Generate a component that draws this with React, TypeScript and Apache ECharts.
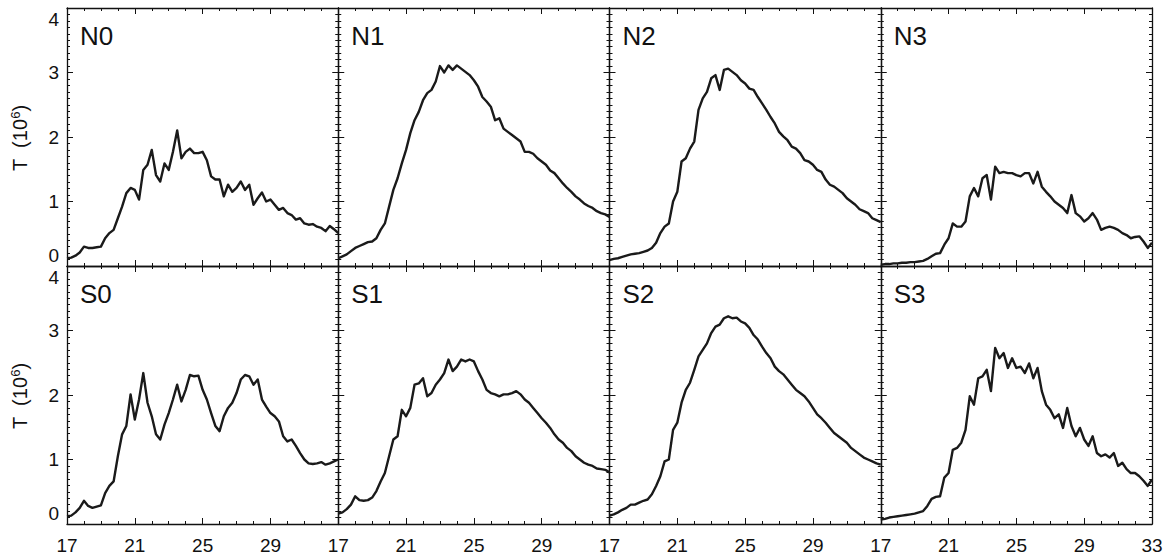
import React, { useEffect, useRef } from "react";
import * as echarts from "echarts";

// Panel names, top row (N) then bottom row (S)
const PANELS = ["N0", "N1", "N2", "N3", "S0", "S1", "S2", "S3"];

// Sampling of the time axis (values every 0.25 from 17 to 33)
const TIME_START = 17;
const TIME_STEP = 0.25;

const X_MIN = 17;
const X_MAX = 33;
const X_INTERVAL = 4;
const Y_MIN = 0;
const Y_MAX = 4;
const Y_INTERVAL = 1;

// Temperature profiles, T in units of 10^6
const N0 = [0.12, 0.13, 0.16, 0.21, 0.30, 0.28, 0.28, 0.29, 0.30, 0.43, 0.51, 0.56, 0.74, 0.92, 1.13, 1.21, 1.18, 1.03, 1.49, 1.57, 1.80, 1.41, 1.31, 1.59, 1.49, 1.77, 2.10, 1.67, 1.77, 1.82, 1.75, 1.75, 1.77, 1.64, 1.39, 1.34, 1.34, 1.08, 1.26, 1.15, 1.21, 1.31, 1.18, 1.26, 0.95, 1.05, 1.14, 1.00, 1.03, 0.95, 0.87, 0.90, 0.82, 0.79, 0.72, 0.74, 0.66, 0.64, 0.65, 0.61, 0.59, 0.54, 0.62, 0.57, 0.51];
const N1 = [0.12, 0.15, 0.18, 0.23, 0.28, 0.31, 0.34, 0.37, 0.38, 0.43, 0.56, 0.66, 0.92, 1.18, 1.36, 1.59, 1.80, 2.06, 2.26, 2.39, 2.57, 2.68, 2.73, 2.86, 3.10, 3.00, 3.11, 3.04, 3.11, 3.06, 3.01, 2.96, 2.88, 2.78, 2.62, 2.55, 2.47, 2.26, 2.29, 2.13, 2.08, 2.03, 1.98, 1.93, 1.77, 1.77, 1.74, 1.67, 1.62, 1.57, 1.48, 1.44, 1.36, 1.28, 1.21, 1.15, 1.08, 1.03, 0.97, 0.93, 0.90, 0.85, 0.82, 0.80, 0.76];
const N2 = [0.09, 0.11, 0.12, 0.14, 0.16, 0.18, 0.19, 0.20, 0.22, 0.24, 0.28, 0.36, 0.51, 0.61, 0.66, 1.00, 1.15, 1.62, 1.67, 1.82, 1.93, 2.42, 2.60, 2.70, 2.91, 2.96, 2.73, 3.04, 3.06, 3.01, 2.96, 2.88, 2.83, 2.75, 2.73, 2.62, 2.52, 2.42, 2.31, 2.21, 2.08, 2.01, 1.95, 1.85, 1.82, 1.75, 1.64, 1.62, 1.57, 1.49, 1.46, 1.34, 1.26, 1.23, 1.18, 1.13, 1.05, 1.00, 0.95, 0.88, 0.85, 0.82, 0.74, 0.71, 0.68];
const N3 = [0.02, 0.03, 0.03, 0.04, 0.04, 0.05, 0.05, 0.06, 0.06, 0.07, 0.08, 0.11, 0.15, 0.19, 0.20, 0.33, 0.43, 0.66, 0.61, 0.61, 0.69, 1.08, 1.21, 1.08, 1.36, 1.41, 1.03, 1.54, 1.44, 1.46, 1.44, 1.44, 1.41, 1.39, 1.44, 1.44, 1.28, 1.46, 1.23, 1.15, 1.08, 1.00, 0.95, 0.90, 0.82, 1.10, 0.82, 0.77, 0.69, 0.74, 0.82, 0.72, 0.56, 0.59, 0.61, 0.59, 0.56, 0.51, 0.48, 0.43, 0.45, 0.46, 0.38, 0.28, 0.36];
const S0 = [0.12, 0.13, 0.18, 0.25, 0.36, 0.28, 0.25, 0.27, 0.29, 0.48, 0.59, 0.66, 1.05, 1.39, 1.52, 2.01, 1.62, 1.93, 2.34, 1.88, 1.67, 1.39, 1.31, 1.54, 1.72, 1.93, 2.16, 1.90, 2.08, 2.31, 2.29, 2.30, 2.08, 1.93, 1.72, 1.52, 1.44, 1.67, 1.80, 1.88, 2.03, 2.24, 2.31, 2.29, 2.16, 2.24, 1.93, 1.82, 1.72, 1.67, 1.59, 1.36, 1.28, 1.31, 1.21, 1.10, 1.00, 0.94, 0.93, 0.94, 0.96, 0.92, 0.94, 0.97, 1.00];
const S1 = [0.16, 0.18, 0.23, 0.30, 0.43, 0.37, 0.36, 0.37, 0.41, 0.51, 0.66, 0.79, 1.05, 1.31, 1.36, 1.77, 1.67, 1.80, 2.16, 2.18, 2.26, 1.98, 2.03, 2.16, 2.24, 2.34, 2.55, 2.37, 2.44, 2.55, 2.52, 2.55, 2.52, 2.37, 2.24, 2.08, 2.03, 2.01, 1.98, 2.01, 2.01, 2.03, 2.06, 2.01, 1.93, 1.88, 1.80, 1.72, 1.64, 1.57, 1.49, 1.39, 1.31, 1.26, 1.18, 1.13, 1.05, 1.00, 0.95, 0.92, 0.90, 0.86, 0.85, 0.84, 0.80];
const S2 = [0.13, 0.15, 0.18, 0.22, 0.25, 0.30, 0.30, 0.33, 0.36, 0.38, 0.46, 0.59, 0.74, 0.97, 1.00, 1.46, 1.57, 1.88, 2.08, 2.19, 2.39, 2.60, 2.70, 2.80, 2.96, 3.06, 3.09, 3.19, 3.22, 3.19, 3.20, 3.14, 3.11, 3.04, 2.93, 2.86, 2.75, 2.65, 2.57, 2.44, 2.37, 2.32, 2.24, 2.16, 2.08, 2.03, 1.98, 1.90, 1.80, 1.70, 1.64, 1.57, 1.49, 1.41, 1.36, 1.31, 1.26, 1.18, 1.13, 1.08, 1.03, 1.00, 0.97, 0.94, 0.92];
const S3 = [0.07, 0.08, 0.10, 0.11, 0.12, 0.13, 0.14, 0.15, 0.16, 0.18, 0.20, 0.28, 0.39, 0.42, 0.43, 0.72, 0.79, 1.15, 1.18, 1.26, 1.46, 1.98, 1.85, 2.26, 2.29, 2.39, 2.06, 2.73, 2.57, 2.65, 2.42, 2.57, 2.42, 2.44, 2.34, 2.49, 2.26, 2.42, 2.06, 1.85, 1.77, 1.64, 1.70, 1.49, 1.80, 1.52, 1.36, 1.49, 1.31, 1.21, 1.36, 1.10, 1.05, 1.08, 1.03, 1.10, 0.90, 0.95, 0.85, 0.79, 0.79, 0.74, 0.67, 0.59, 0.69];

const PROFILES = [N0, N1, N2, N3, S0, S1, S2, S3];

const FONT = "'Liberation Sans', Arial, sans-serif";
const INK = "#111";

// Layout of the 2 x 4 panel block
const BLOCK_LEFT = 67;
const BLOCK_RIGHT = 1152;
const ROW_TOPS = [8, 266];
const ROW_HEIGHT = 258;
const COL_WIDTH = (BLOCK_RIGHT - BLOCK_LEFT) / 4;

function toPoints(values: number[]) {
  return values.map((v, i) => [TIME_START + i * TIME_STEP, v]);
}

export default function App() {
  const ref = useRef<HTMLDivElement>(null);

  useEffect(() => {
    document.body.style.margin = "0";
    const chart = echarts.init(ref.current!, null, { renderer: "svg" });

    const grids: any[] = [];
    const xAxes: any[] = [];
    const yAxes: any[] = [];
    const series: any[] = [];
    const graphics: any[] = [];

    const axisLine = { show: true, onZero: false, lineStyle: { color: INK, width: 1.3 } };
    const tick = { show: true, inside: true, length: 6, lineStyle: { color: INK, width: 1 } };

    PANELS.forEach((name, g) => {
      const row = Math.floor(g / 4);
      const col = g % 4;
      const left = BLOCK_LEFT + col * COL_WIDTH;
      const top = ROW_TOPS[row];
      grids.push({ left, top, width: COL_WIDTH, height: ROW_HEIGHT, containLabel: false });

      const xCommon = {
        type: "value",
        gridIndex: g,
        min: X_MIN,
        max: X_MAX,
        interval: X_INTERVAL,
        axisLine,
        axisTick: tick,
        minorTick: { show: true, splitNumber: 4, length: 3, lineStyle: { color: INK, width: 1 } },
        splitLine: { show: false },
        minorSplitLine: { show: false },
      };
      xAxes.push({
        ...xCommon,
        position: "bottom",
        axisLabel: {
          show: row === 1,
          fontSize: 19,
          fontFamily: FONT,
          color: INK,
          margin: 12,
          showMinLabel: true,
          showMaxLabel: true,
          formatter: (v: number) => (v === X_MAX && col < 3 ? "" : String(v)),
        },
      });
      xAxes.push({ ...xCommon, position: "top", axisLabel: { show: false } });

      const yCommon = {
        type: "value",
        gridIndex: g,
        min: Y_MIN,
        max: Y_MAX,
        interval: Y_INTERVAL,
        axisLine,
        axisTick: tick,
        minorTick: { show: true, splitNumber: 10, length: 3, lineStyle: { color: INK, width: 1 } },
        splitLine: { show: false },
        minorSplitLine: { show: false },
      };
      yAxes.push({
        ...yCommon,
        position: "left",
        axisLabel: {
          show: col === 0,
          fontSize: 19,
          fontFamily: FONT,
          color: INK,
          margin: 8,
          showMinLabel: true,
          showMaxLabel: true,
          // the end labels are nudged inwards so that 0 and 4 of stacked rows do not collide
          formatter: (v: number) =>
            v === Y_MIN ? "{lo|" + v + "}" : v === Y_MAX ? "{hi|" + v + "}" : String(v),
          rich: {
            lo: { fontSize: 19, fontFamily: FONT, color: INK, padding: [0, 0, 22, 0] },
            hi: { fontSize: 19, fontFamily: FONT, color: INK, padding: [22, 0, 0, 0] },
          },
        },
      });
      yAxes.push({ ...yCommon, position: "right", axisLabel: { show: false } });

      series.push({
        type: "line",
        name,
        xAxisIndex: 2 * g,
        yAxisIndex: 2 * g,
        data: toPoints(PROFILES[g]),
        showSymbol: false,
        symbol: "none",
        lineStyle: { color: "#1a1a1a", width: 2.4, join: "round" },
        clip: true,
      });

      graphics.push({
        type: "text",
        left: left + 13,
        top: top + 15,
        style: { text: name, font: "26px " + FONT, fill: INK },
      });

      // vertical axis title for each row
      if (col === 0) {
        graphics.push({
          type: "text",
          x: 20,
          y: top + ROW_HEIGHT / 2 + 1,
          rotation: Math.PI / 2,
          style: {
            text: "{b|T  (10}{s|6}{b|)}",
            align: "center",
            verticalAlign: "middle",
            fill: INK,
            rich: {
              b: { fontSize: 20, fontFamily: FONT, fill: INK },
              s: { fontSize: 13, fontFamily: FONT, fill: INK, padding: [0, 0, 10, 0] },
            },
          },
        });
      }
    });

    chart.setOption({
      animation: false,
      backgroundColor: "#fff",
      grid: grids,
      xAxis: xAxes,
      yAxis: yAxes,
      series,
      graphic: graphics,
    });

    return () => chart.dispose();
  }, []);

  return <div ref={ref} style={{ width: 1169, height: 560 }} />;
}
